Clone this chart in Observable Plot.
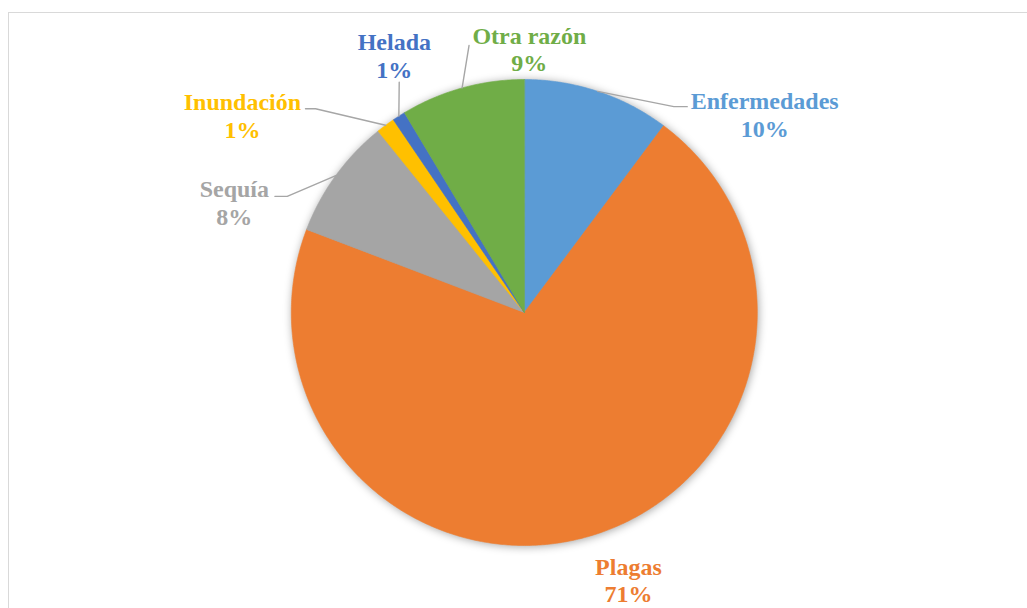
<!DOCTYPE html>
<html>
<head>
<meta charset="utf-8">
<script src="https://cdn.jsdelivr.net/npm/d3@7"></script>
<script src="https://cdn.jsdelivr.net/npm/@observablehq/plot@0.6"></script>
<style>
  html, body { margin: 0; padding: 0; background: #fff; overflow: hidden; }
  #wrap { position: relative; width: 1027px; height: 608px; }
  #frame { position: absolute; left: 8px; top: 12px; width: 1100px; height: 700px;
           border-left: 1.5px solid #d9d9d9; border-top: 1.5px solid #d9d9d9; box-sizing: border-box; }
  #chart { position: absolute; left: 0; top: 0; }
  #chart svg text { font-family: "Liberation Serif", "Times New Roman", Times, Tinos, "DejaVu Serif", serif !important; }
</style>
</head>
<body>
<div id="wrap"><div id="frame"></div><div id="chart"></div></div>
<script>
// ---- data ----
const categories = ["Enfermedades", "Plagas", "Sequía", "Inundación", "Helada", "Otra razón"];
const values = [10.2, 70.6, 8.4, 1.3, 0.9, 8.6];

// ---- style ----
const colors = ["#5b9bd5", "#ed7d31", "#a5a5a5", "#ffc000", "#4472c4", "#70ad47"];

// ---- label layout (polar: degrees clockwise from 12 o'clock, radius in pie radii) ----
const labelAngle = [50.5, 158.7, 290.9, 305.0, 333.2, 1.1];
const labelRadius = [1.337, 1.230, 1.332, 1.477, 1.237, 1.133];
const kneeAngle = [36.0, null, 296.1, 314.3, 331.5, 348.3];
const kneeRadius = [1.092, null, 1.133, 1.252, 1.125, 1.170];
const tailLength = [0.0575, 0, -0.053, -0.043, 0, 0];

const total = d3.sum(values);
const rows = categories.map((name, i) => ({name, value: values[i], pct: Math.round(values[i] / total * 100) + "%"}));
const arcs = d3.pie().sort(null).value(d => d.value)(rows);

// slice polygons in unit (x right, y up) coordinates
const slicePts = [];
arcs.forEach(a => {
  const n = Math.max(4, Math.ceil((a.endAngle - a.startAngle) / (Math.PI / 360)));
  slicePts.push({name: a.data.name, x: 0, y: 0});
  for (let k = 0; k <= n; k++) {
    const t = a.startAngle + (a.endAngle - a.startAngle) * k / n;
    slicePts.push({name: a.data.name, x: Math.sin(t), y: Math.cos(t)});
  }
});

const rad = d => d * Math.PI / 180;
const labelData = rows.map((r, i) => ({
  name: r.name,
  text: r.name + "\n" + r.pct,
  x: labelRadius[i] * Math.sin(rad(labelAngle[i])),
  y: labelRadius[i] * Math.cos(rad(labelAngle[i]))
}));

const leaderPts = [];
arcs.forEach((a, i) => {
  if (kneeAngle[i] == null) return;
  const mid = (a.startAngle + a.endAngle) / 2;
  const kx = kneeRadius[i] * Math.sin(rad(kneeAngle[i]));
  const ky = kneeRadius[i] * Math.cos(rad(kneeAngle[i]));
  leaderPts.push({name: a.data.name, x: Math.sin(mid), y: Math.cos(mid)});
  leaderPts.push({name: a.data.name, x: kx, y: ky});
  if (tailLength[i] !== 0) leaderPts.push({name: a.data.name, x: kx + tailLength[i], y: ky});
});

const R = 233, cx = 523.8, cy = 312;
const chart = Plot.plot({
  width: 1027,
  height: 608,
  marginLeft: cx - R,
  marginRight: 1027 - (cx + R),
  marginTop: cy - R,
  marginBottom: 608 - (cy + R),
  x: {domain: [-1, 1], axis: null},
  y: {domain: [-1, 1], axis: null},
  color: {domain: categories, range: colors},
  style: {background: "transparent", overflow: "visible"},
  marks: [
    Plot.line(slicePts, {x: "x", y: "y", z: "name", fill: "name", stroke: "name", strokeWidth: 0.6, curve: "linear-closed"}),
    Plot.line(leaderPts, {x: "x", y: "y", z: "name", stroke: "#a6a6a6", strokeWidth: 1.4}),
    Plot.text(labelData, {
      x: "x", y: "y", text: "text", fill: "name",
      fontSize: 24, fontWeight: "bold",
      lineHeight: 1.16, textAnchor: "middle", lineAnchor: "middle"
    })
  ]
});
const pieGroup = chart.querySelector('g[aria-label="line"]');
if (pieGroup) pieGroup.style.filter = "drop-shadow(1px 1px 4px rgba(0,0,0,0.35))";
document.getElementById("chart").appendChild(chart);
</script>
</body>
</html>
